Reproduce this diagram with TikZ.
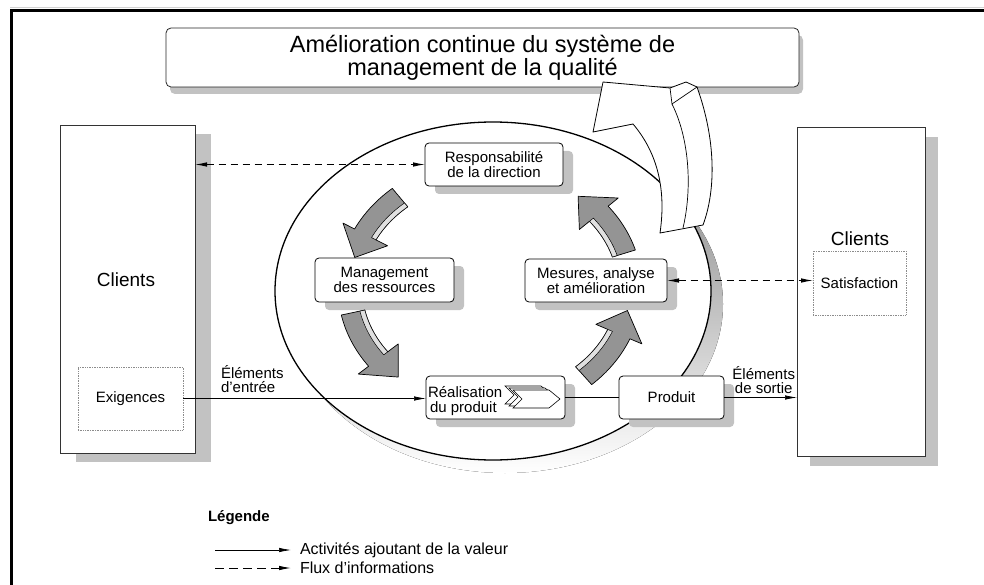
\documentclass[tikz,border=0pt]{standalone}
\usepackage{fontspec}
\setmainfont{Liberation Sans}
\usetikzlibrary{arrows.meta,shadows,calc}

\definecolor{shade}{gray}{0.76}
\definecolor{arrowgray}{gray}{0.58}
\definecolor{arrowlight}{gray}{0.88}
\definecolor{dotgray}{gray}{0.55}

\newcommand{\titlefont}{\fontsize{23.5}{22}\selectfont}
\newcommand{\stagefont}{\fontsize{15}{14.5}\selectfont}
\newcommand{\clientfont}{\fontsize{19}{20}\selectfont}
\newcommand{\legendfont}{\fontsize{16}{16}\selectfont}

% ring of curved grey block arrows around the process centre
\def\cycX{490}\def\cycY{288}\def\cycA{140}\def\cycB{118}\def\cycW{12}\def\cycH{25}
\newcommand{\cyclearrow}[3]{%
  \path[cycarrow]
    plot[domain=#1:#2, samples=20] ({\cycX+(\cycA+\cycW)*cos(\x)},{\cycY+(\cycB+\cycW)*sin(\x)})
    -- ({\cycX+(\cycA+\cycH)*cos(#2)},{\cycY+(\cycB+\cycH)*sin(#2)})
    -- ({\cycX+\cycA*cos(#3)},{\cycY+\cycB*sin(#3)})
    -- ({\cycX+(\cycA-\cycH)*cos(#2)},{\cycY+(\cycB-\cycH)*sin(#2)})
    -- plot[domain=#2:#1, samples=20] ({\cycX+(\cycA-\cycW)*cos(\x)},{\cycY+(\cycB-\cycW)*sin(\x)})
    -- cycle;
  \path[cyclight]
    plot[domain=#1:#2, samples=20] ({\cycX+(\cycA-\cycW)*cos(\x)},{\cycY+(\cycB-\cycW)*sin(\x)})
    -- plot[domain=#2:#1, samples=20] ({\cycX+(\cycA-\cycW+5)*cos(\x)},{\cycY+(\cycB-\cycW+5)*sin(\x)})
    -- cycle;
}

\begin{document}
\begin{tikzpicture}[x=1pt,y=-1pt,
  every node/.style={inner sep=0pt, outer sep=0pt},
  titlebox/.style={draw=black!85, line width=0.8pt, rounded corners=5pt, fill=white,
    drop shadow={shadow xshift=4pt, shadow yshift=-7pt, fill=shade, opacity=1}},
  stagebox/.style={draw=black, line width=0.8pt, rounded corners=4pt, fill=white,
    align=center, font=\stagefont,
    drop shadow={shadow xshift=10pt, shadow yshift=-8pt, fill=shade, opacity=1}},
  clientbox/.style={draw=black!80, line width=0.9pt, fill=white},
  needbox/.style={draw=dotgray, densely dotted, line width=0.7pt, fill=white, font=\stagefont},
  flow/.style={line width=0.7pt, -{Latex[length=12pt,width=4.5pt]}},
  info/.style={line width=0.9pt, dash pattern=on 7pt off 5pt,
    {Latex[length=12pt,width=4.5pt]}-{Latex[length=12pt,width=4.5pt]}},
  cycarrow/.style={fill=arrowgray, draw=black, line width=0.7pt, line join=round},
  cyclight/.style={fill=arrowlight, draw=black, line width=0.5pt, line join=round},
  hollow/.style={fill=white, draw=black, line width=0.8pt, line join=round}
]
\useasboundingbox (0,0) rectangle (984,585);
\fill[white] (0,0) rectangle (984,585);

% page frame
\draw[gray!35, line width=1pt] (10,8) -- (984,8);
\draw[line width=2.4pt] (11.5,585) -- (11.5,10.5) -- (984,10.5);

% title banner
\node[titlebox, minimum width=633pt, minimum height=59pt, align=center, font=\titlefont]
  (title) at (482.5,57.5) {Amélioration continue du système de\\management de la qualité};

% process ring with its shadow
\fill[shade] (505,304) ellipse [x radius=218, y radius=169];
\draw[line width=1.3pt, fill=white] (493,291) ellipse [x radius=218, y radius=169];

% customers on both sides
\node[clientbox, minimum width=135pt, minimum height=328pt,
  drop shadow={shadow xshift=16pt, shadow yshift=-9pt, fill=shade, opacity=1}]
  (lc) at (127.5,289) {};
\node[font=\clientfont] (lcname) at (126,280) {Clients};
\node[needbox, minimum width=105pt, minimum height=63pt] (exig) at (130.5,398.5) {Exigences};

\node[clientbox, minimum width=128pt, minimum height=329pt,
  drop shadow={shadow xshift=13pt, shadow yshift=-10pt, fill=shade, opacity=1}]
  (rc) at (861,291.5) {};
\node[font=\clientfont] (rcname) at (860,239) {Clients};
\node[needbox, minimum width=93pt, minimum height=64pt] (sat) at (859.5,283) {Satisfaction};

% the four processes and the product
\node[stagebox, minimum width=138pt, minimum height=43pt] (resp) at (494,164.5)
  {Responsabilité\\de la direction};
\node[stagebox, minimum width=139pt, minimum height=44pt] (mgmt) at (384.5,280)
  {Management\\des ressources};
\node[stagebox, minimum width=142pt, minimum height=43pt] (mes) at (596,280.5)
  {Mesures, analyse\\et amélioration};
\node[stagebox, minimum width=139pt, minimum height=43pt] (real) at (495.5,397.5) {};
\node[font=\stagefont, align=left, anchor=west] (realtext) at (428,401)
  {Réalisation\\\hspace{2pt}du produit};
\node[stagebox, minimum width=105pt, minimum height=43pt] (prod) at (671.5,397.5) {Produit};

% stacked chevrons inside the realisation box
\foreach \d in {8,4,0}{
  \begin{scope}[shift={(-\d,-\d/2)}]
    \draw[fill=white, line width=0.6pt, line join=miter]
      (513,390) -- (549,390) -- (560,399) -- (549,408) -- (513,408) -- (522,399) -- cycle;
  \end{scope}
}

% curved arrows of the improvement cycle
\cyclearrow{230}{207}{195}
\cyclearrow{168}{143}{131}
\cyclearrow{48}{23}{11}
\cyclearrow{343}{321}{309}

% value-adding flow
\draw[flow] (exig.east) -- (exig.east -| real.west);
\draw[line width=0.7pt] (real.east) -- (prod.west);
\draw[flow] (prod.east) -- (prod.east -| rc.west);
\node[font=\stagefont, align=left, anchor=south west] (inlabel) at (221,393)
  {Éléments\\d’entrée};
\node[font=\stagefont, align=center, anchor=south east] (outlabel) at (795,394)
  {Éléments\\de sortie};

% information flows
\draw[info] (lc.east |- resp.west) -- (resp.west);
\draw[info] (mes.east) -- (mes.east -| sat.west);

% improvement arrow rising out of the ring into the banner
\path[hollow] (660,233) .. controls (667,185) and (655,150) .. (633,124)
  -- (593,132) -- (603,82) -- (670,88) -- (686,82) -- (697,87)
  .. controls (716,140) and (716,190) .. (703,225) -- cycle;
\draw[line width=0.7pt, line join=round] (697,87) -- (672,104)
  .. controls (690,140) and (692,190) .. (683,228);
\draw[line width=0.7pt] (670,88) -- (672,104);

% legend
\node[font=\fontsize{15}{15}\selectfont\bfseries, anchor=west] (legtitle) at (208,518) {Légende};
\coordinate (la) at (215,550);
\coordinate (lb) at (291,550);
\coordinate (lc2) at (215,568);
\coordinate (ld) at (291,568);
\draw[flow] (la) -- (lb);
\draw[line width=0.9pt, dash pattern=on 9pt off 5pt, -{Latex[length=12pt,width=4.5pt]}] (lc2) -- (ld);
\node[font=\legendfont, anchor=west] (legvalue) at (300,550) {Activités ajoutant de la valeur};
\node[font=\legendfont, anchor=west] (leginfo) at (300,568) {Flux d’informations};
\end{tikzpicture}
\end{document}
